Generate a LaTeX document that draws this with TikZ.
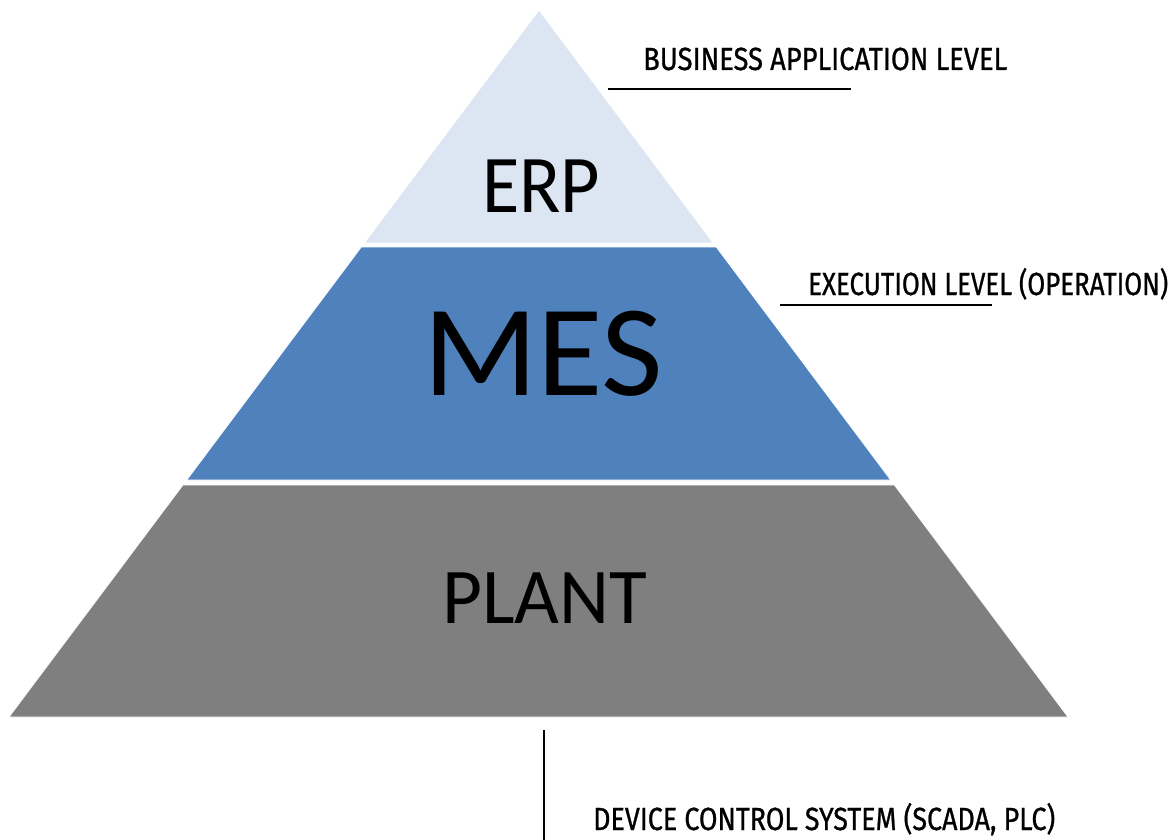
\documentclass[tikz,border=0pt]{standalone}
\usepackage{fontspec}
\usepackage{graphicx}
\setmainfont{Carlito}
\newfontfamily\lblfont[FakeBold=0.9]{Fira Sans}
\definecolor{erpc}{HTML}{DCE6F2}
\definecolor{mesc}{HTML}{4F81BD}
\definecolor{plantc}{HTML}{7F7F7F}
\newsavebox\fitbox
\newcommand\fitto[2]{\sbox\fitbox{#2}\pgfmathsetmacro\fitratio{#1/\wd\fitbox}\scalebox{\fitratio}[1]{\usebox\fitbox}}
\tikzset{
  layer/.style={draw=white, line width=0.8pt},
  big/.style={anchor=base, inner sep=0pt, text=black},
  lbl/.style={anchor=base west, inner sep=0pt, text=black, font=\lblfont\fontsize{32}{36}\selectfont},
  leader/.style={draw=black, line width=1.2pt}
}
\begin{document}
\begin{tikzpicture}[x=1pt,y=-1pt]
\useasboundingbox (0,0) rectangle (1175,840);
% layers
\path[layer, fill=erpc] (539,10) -- (713.3,243) -- (364.3,243) -- cycle;
\path[layer, fill=mesc] (361.3,247) -- (716.3,247) -- (890.7,480) -- (186.7,480) -- cycle;
\path[layer, fill=plantc] (182.9,485) -- (894.4,485) -- (1068,717) -- (9,717) -- cycle;
% layer titles
\node[big, font=\fontsize{82}{90}\selectfont] (erp) at (541,212) {\fitto{118}{ERP}};
\node[big, font=\fontsize{130}{140}\selectfont] (mes) at (543,395) {\fitto{240}{MES}};
\node[big, font=\fontsize{79}{88}\selectfont] (plant) at (544.5,623) {\fitto{205}{PLANT}};
% side labels
\node[lbl] (bal) at (643,70) {\fitto{364}{BUSINESS APPLICATION LEVEL}};
\node[lbl] (exl) at (808,295) {\fitto{360}{EXECUTION LEVEL (OPERATION)}};
\node[lbl] (dcs) at (593,830) {\fitto{462}{DEVICE CONTROL SYSTEM (SCADA, PLC)}};
% leader lines
\coordinate (b1) at (608,89); \coordinate (b2) at (851,89);
\coordinate (e1) at (780,305); \coordinate (e2) at (992,305);
\coordinate (d1) at (544,730); \coordinate (d2) at (544,840);
\draw[leader] (b1) -- (b2);
\draw[leader] (e1) -- (e2);
\draw[leader] (d1) -- (d2);
\end{tikzpicture}
\end{document}
